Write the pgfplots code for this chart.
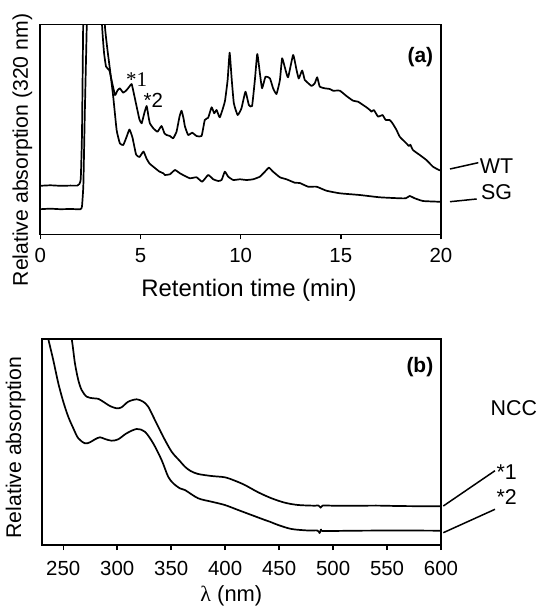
\documentclass[border=0pt]{standalone}
\usepackage{fontspec}
\setmainfont{Liberation Sans}
\newfontfamily\seriffont{Liberation Serif}
\usepackage{pgfplots}
\pgfplotsset{compat=1.18}
\pgfplotsset{
 common/.style={
  scale only axis,
  axis line style={line width=1.8bp},
  tick style={line width=1.5bp, black},
  major tick length=5bp,
  tick align=outside,
  xtick pos=left,
  ytick=\empty,
  ticklabel style={font=\fontsize{20.5}{24}\selectfont},
  /pgf/number format/assume math mode=true,
 },
 curve/.style={black, line width=1.7bp, line join=round, mark=none},
}
\begin{document}
\begin{tikzpicture}
\useasboundingbox (0,0) rectangle (538bp,606bp);

% ---------------- panel (a)
\begin{axis}[common, at={(40.3bp,371.5bp)}, anchor=south west,
  width=400.7bp, height=210bp,
  xmin=0, xmax=20, ymin=0, ymax=210,
  xtick={0,5,10,15,20},
  xticklabel style={yshift=-5bp},
  xlabel={Retention time (min)},
  ylabel={Relative absorption (320 nm)},
  xlabel style={font=\fontsize{24}{28}\selectfont, at={(axis description cs:0.521,-0.264)}, anchor=center},
  ylabel style={font=\fontsize{21.3}{25}\selectfont, at={(axis description cs:-0.0444,0.402)}, anchor=center},
]
% WT
\addplot[curve, smooth, tension=0.25] coordinates {
(0,48.7) (0.5,49.2) (1.0,48.7) (1.5,48.9) (1.85,48.9) (1.95,50.5) (2.02,56) (2.08,100) (2.14,210) (2.2,300) (2.9,300) (3.08,210) (3.18,182) (3.28,168) (3.45,164) (3.55,155) (3.73,139.5) (3.85,144) (3.97,146.2) (4.14,141.8) (4.31,144.5) (4.45,148) (4.56,150.5) (4.68,140) (4.81,127.8) (4.95,115) (5.06,111.2) (5.2,122) (5.31,128.5) (5.4,118) (5.47,111.2) (5.64,106.2) (5.85,102.8) (6.05,108.5) (6.2,101) (6.30,99.5) (6.47,98.5) (6.63,96.2) (6.80,102.8) (6.95,118) (7.05,123.8) (7.15,116) (7.22,108) (7.38,99.5) (7.58,101.8) (7.80,98.5) (8.05,98.5) (8.21,114.5) (8.38,116.8) (8.55,127.2) (8.68,121.2) (8.80,124.5) (8.96,117.2) (9.21,132.8) (9.35,154.5) (9.45,181.8) (9.55,156.2) (9.66,131.2) (9.85,119.5) (10.04,126.2) (10.24,142.8) (10.41,129.5) (10.57,128.5) (10.71,154.5) (10.83,180.5) (10.96,161.2) (11.07,146.2) (11.24,157.8) (11.46,156.2) (11.62,146.2) (11.79,140.5) (11.96,154.5) (12.07,176.2) (12.24,164.5) (12.37,157.2) (12.62,179.5) (12.79,164.5) (12.90,156) (13.07,164) (13.20,154.5) (13.29,152.8) (13.54,148.5) (13.70,151.2) (13.82,157.2) (13.95,147.8) (14.20,146.2) (14.45,145.5) (14.61,143.8) (14.95,143.8) (15.28,138.5) (15.61,133.8) (15.86,132.8) (16.11,129.5) (16.28,127.2) (16.45,124.5) (16.53,122.8) (16.65,124.5) (16.86,117.8) (17.08,119.5) (17.24,114.5) (17.44,114.5) (17.58,111.2) (17.78,104.5) (17.94,97.8) (18.27,91.2) (18.40,88.5) (18.47,89.8) (18.60,84.5) (18.94,79.5) (19.27,74.5) (19.60,67.8) (19.90,64.5) (20,64)
};
% SG
\addplot[curve, smooth, tension=0.25] coordinates {
(0,25.3) (0.5,25.8) (1.0,25.3) (1.5,25.5) (2.0,25.3) (2.08,28) (2.15,50) (2.22,120) (2.32,210) (2.4,300) (3.0,300) (3.22,210) (3.35,185) (3.48,164.5) (3.64,137.8) (3.81,104.5) (3.97,91.2) (4.14,89.5) (4.31,97.8) (4.45,105) (4.6,97) (4.78,80) (4.95,77.5) (5.15,83) (5.3,76) (5.45,71) (5.64,67.8) (5.94,63) (6.14,61.2) (6.22,59.5) (6.47,60.2) (6.72,64.5) (6.97,61.2) (7.22,58.5) (7.47,56.2) (7.80,57.2) (8.08,52.8) (8.38,59.5) (8.63,55.2) (8.88,53.5) (9.05,54.5) (9.21,62.8) (9.38,57.8) (9.63,54.5) (9.96,55.2) (10.29,54.5) (10.62,55.2) (10.96,57.8) (11.21,62.8) (11.41,66.8) (11.62,62.8) (11.96,57.2) (12.29,55.2) (12.70,51.8) (12.95,51.5) (13.37,47.8) (13.79,47.8) (14.28,43.8) (14.95,41.2) (15.94,39.5) (16.94,37.2) (17.94,36.2) (18.24,36.2) (18.44,38.5) (18.69,36.2) (19.10,33.5) (19.85,32.8) (20,32.8)
};
\node[font=\fontsize{21}{24}\selectfont\bfseries, anchor=north east, inner sep=0] at (rel axis cs:0.981,0.894) {(a)};
\node[font=\seriffont\fontsize{21}{24}\selectfont, inner sep=0] at (axis cs:4.81,154.5) {*1};
\node[font=\fontsize{20.5}{24}\selectfont, inner sep=0] at (axis cs:5.64,133.8) {*2};
\end{axis}

% ---------------- panel (b)
\begin{axis}[common, at={(41.7bp,61bp)}, anchor=south west,
  width=399.3bp, height=206bp,
  xmin=230, xmax=600, ymin=0, ymax=206,
  xtick={250,300,350,400,450,500,550,600},
  xticklabel style={yshift=-8bp},
  xlabel={{\seriffont λ} (nm)},
  ylabel={Relative absorption},
  xlabel style={font=\fontsize{22}{26}\selectfont, at={(axis description cs:0.475,-0.247)}, anchor=center},
  ylabel style={font=\fontsize{21.3}{25}\selectfont, at={(axis description cs:-0.065,0.473)}, anchor=center},
]
% *1
\addplot[curve, smooth, tension=0.5] coordinates {
(252,240) (257.8,206) (260.8,181.7) (263.9,165) (267,155) (271.7,148.3) (277.8,146.7) (282.4,146.2) (287,143.3) (293.2,139) (299.4,136.7) (304,137.7) (310.2,143.3) (318,145.7) (324,143.3) (328.7,138.3) (334.9,125) (342.6,108.3) (350.4,93.3) (358,84) (362.7,78.3) (368,74) (375,71) (387.4,69) (399.7,67.7) (409,64.3) (418.2,60) (430.6,52.7) (443,46.7) (455.3,42.3) (467.6,40) (483,39.3) (486.5,39.5) (488.5,37.3) (490.5,39.5) (500,39.3) (520,39.2) (540,39.4) (560,39) (580,38.8) (600,38.8)
};
% *2
\addplot[curve, smooth, tension=0.5] coordinates {
(232,225) (236.1,206) (240.7,185) (245.4,161.7) (250,143.3) (254.6,128.3) (259.3,116.7) (263.9,106.7) (270.1,101.7) (274.7,102.7) (279.4,105.7) (284,107.7) (288.6,106) (294.8,104.3) (300.9,105.7) (308.7,111.7) (318,116) (325.6,113.3) (333.3,101.7) (341.1,85) (347.2,68.3) (351.9,61.7) (358,56.7) (362.7,55) (375,46.7) (387.4,43.3) (399.7,40) (412,35) (424.4,30) (436.8,25) (441.4,23.3) (449.1,20) (461.5,16) (476.9,14.5) (485.5,14.5) (487.5,12) (489,15.5) (490.5,14) (520,14.3) (560,14.5) (600,14.3)
};
\node[font=\fontsize{21}{24}\selectfont\bfseries, anchor=north east, inner sep=0] at (rel axis cs:0.981,0.914) {(b)};
\end{axis}

% ---------------- labels outside the axes
\begin{scope}[line width=1.5bp]
\draw (450bp,437bp) -- (478.3bp,443.3bp);
\draw (450bp,404.3bp) -- (476.7bp,407bp);
\draw (443.3bp,100bp) -- (495bp,135.3bp);
\draw (443.3bp,73.3bp) -- (495bp,96.7bp);
\end{scope}
\begin{scope}[every node/.style={font=\fontsize{21.5}{25}\selectfont, inner sep=0}]
\node at (496.5bp,440.3bp) {WT};
\node at (496.5bp,413.5bp) {SG};
\node at (513.8bp,197.7bp) {NCC};
\node at (506.7bp,134.3bp) {*1};
\node at (506.7bp,109.3bp) {*2};
\end{scope}
\end{tikzpicture}
\end{document}
